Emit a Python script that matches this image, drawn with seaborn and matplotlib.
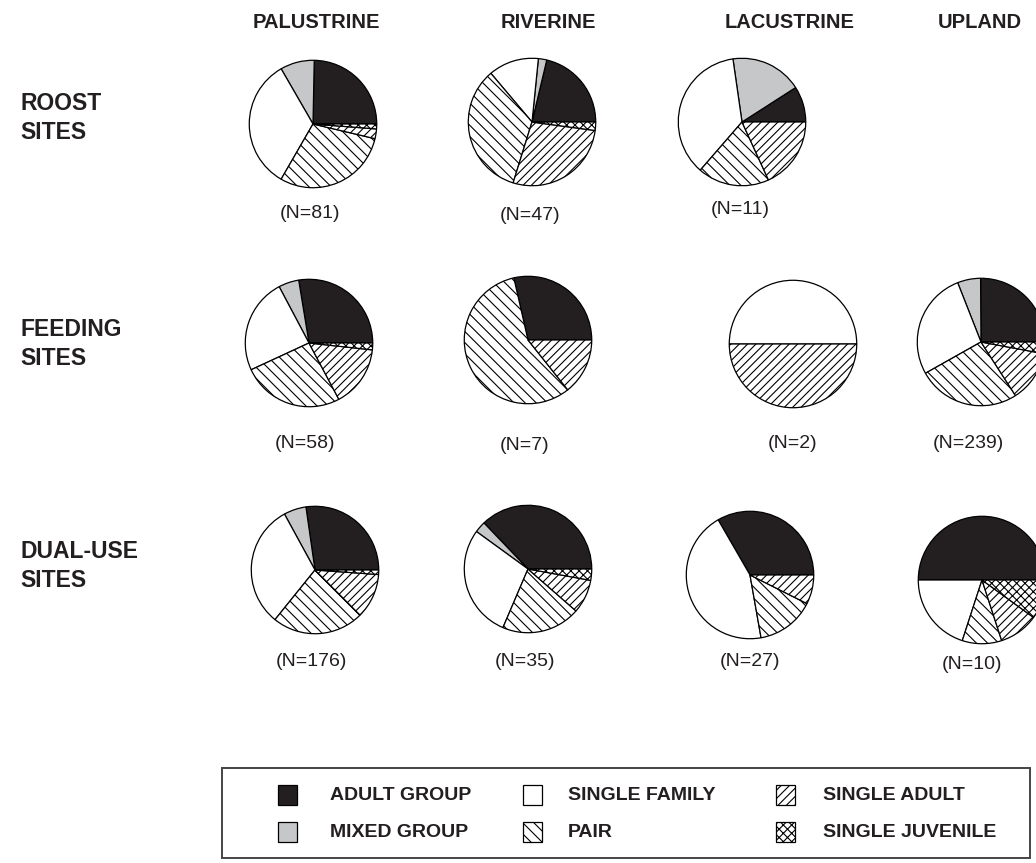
"""
Social group composition of birds by site type and wetland habitat.
Grid of pie charts with a shared legend box underneath.
"""

import matplotlib
matplotlib.use("Agg")
import matplotlib.pyplot as plt
import matplotlib.patches as mpatches
import seaborn as sns

# ── Data ────────────────────────────────────────────────────────────────────
GROUPS = ["ADULT GROUP", "MIXED GROUP", "SINGLE FAMILY",
          "PAIR", "SINGLE ADULT", "SINGLE JUVENILE"]
HABITATS = ["PALUSTRINE", "RIVERINE", "LACUSTRINE", "UPLAND"]
SITES = ["ROOST\nSITES", "FEEDING\nSITES", "DUAL-USE\nSITES"]

# counts per group, same order as GROUPS
ROOST_PALUSTRINE = [20, 7, 27, 24, 2, 1]
ROOST_RIVERINE = [10, 1, 6, 16, 13, 1]
ROOST_LACUSTRINE = [1, 2, 4, 2, 2, 0]
FEEDING_PALUSTRINE = [16, 3, 14, 15, 9, 1]
FEEDING_RIVERINE = [2, 0, 0, 4, 1, 0]
FEEDING_LACUSTRINE = [0, 0, 1, 0, 1, 0]
FEEDING_UPLAND = [60, 14, 65, 62, 31, 7]
DUAL_PALUSTRINE = [48, 10, 55, 41, 20, 2]
DUAL_RIVERINE = [13, 1, 10, 7, 3, 1]
DUAL_LACUSTRINE = [9, 0, 12, 4, 2, 0]
DUAL_UPLAND = [5, 0, 2, 1, 1, 1]

# ── Style ───────────────────────────────────────────────────────────────────
FILLS = ["#231f20", "#c6c7c9", "white", "white", "white", "white"]
HATCHES = ["", "", "", "\\\\\\", "////", "xxxx"]

sns.set_theme(style="white")
plt.rcParams["font.family"] = ["Liberation Sans", "DejaVu Sans"]
plt.rcParams["hatch.linewidth"] = 0.8
plt.rcParams["hatch.color"] = "black"

W, H = 1036, 863
R = 65  # pie radius in pixels

# (data, row, col, centre x, centre y, label x, label y) in pixels
PIES = [
    (ROOST_PALUSTRINE,   0, 0, 313, 124, 310, 214),
    (ROOST_RIVERINE,     0, 1, 532, 122, 530, 216),
    (ROOST_LACUSTRINE,   0, 2, 742, 122, 740, 210),
    (FEEDING_PALUSTRINE, 1, 0, 309, 343, 305, 443),
    (FEEDING_RIVERINE,   1, 1, 528, 340, 525, 445),
    (FEEDING_LACUSTRINE, 1, 2, 793, 344, 793, 443),
    (FEEDING_UPLAND,     1, 3, 981, 342, 968, 443),
    (DUAL_PALUSTRINE,    2, 0, 315, 570, 311, 661),
    (DUAL_RIVERINE,      2, 1, 528, 569, 525, 661),
    (DUAL_LACUSTRINE,    2, 2, 750, 575, 750, 661),
    (DUAL_UPLAND,        2, 3, 982, 580, 972, 664),
]
HEADER_X = [316, 548, 790, 980]
ROW_Y = [118, 344, 566]


def fx(x):
    return x / W


def fy(y):
    return 1 - y / H


fig = plt.figure(figsize=(W / 100, H / 100), dpi=100)
fig.patch.set_facecolor("white")

# ── Pies ────────────────────────────────────────────────────────────────────
for counts, row, col, cx, cy, lx, ly in PIES:
    ax = fig.add_axes([fx(cx - R), fy(cy + R), 2 * R / W, 2 * R / H])
    keep = [i for i, v in enumerate(counts) if v > 0]
    ax.pie([counts[i] for i in keep],
           colors=[FILLS[i] for i in keep],
           hatch=[HATCHES[i] for i in keep],
           startangle=0, counterclock=True, radius=1,
           wedgeprops={"edgecolor": "black", "linewidth": 0.9})
    ax.set_xlim(-1.02, 1.02)
    ax.set_ylim(-1.02, 1.02)
    ax.set_aspect("equal")
    ax.axis("off")
    fig.text(fx(lx), fy(ly), f"(N={sum(counts)})", ha="center", va="center",
             fontsize=14, color="#231f20")

# ── Headers ─────────────────────────────────────────────────────────────────
for name, x in zip(HABITATS, HEADER_X):
    fig.text(fx(x), fy(22), name, ha="center", va="center",
             fontsize=14.5, fontweight="bold", color="#231f20")

for name, y in zip(SITES, ROW_Y):
    fig.text(fx(20), fy(y), name, ha="left", va="center", linespacing=1.35,
             fontsize=16.5, fontweight="bold", color="#231f20")

# ── Legend box ──────────────────────────────────────────────────────────────
lax = fig.add_axes([0, 0, 1, 1])
lax.set_xlim(0, W)
lax.set_ylim(H, 0)
lax.axis("off")
lax.add_patch(mpatches.Rectangle((222, 768), 808, 90, fill=False,
                                 edgecolor="#444444", linewidth=1.4))

MARK_X = [278, 523, 776]
TEXT_X = [330, 568, 823]
ROW_LY = [795, 832]
for i, name in enumerate(GROUPS):
    c, r = divmod(i, 2)
    lax.add_patch(mpatches.Rectangle((MARK_X[c], ROW_LY[r] - 10), 19, 20,
                                     facecolor=FILLS[i], hatch=HATCHES[i],
                                     edgecolor="black", linewidth=0.9))
    lax.text(TEXT_X[c], ROW_LY[r], name, ha="left", va="center",
             fontsize=14, fontweight="bold", color="#231f20")

fig.savefig("out.png", dpi=100)
